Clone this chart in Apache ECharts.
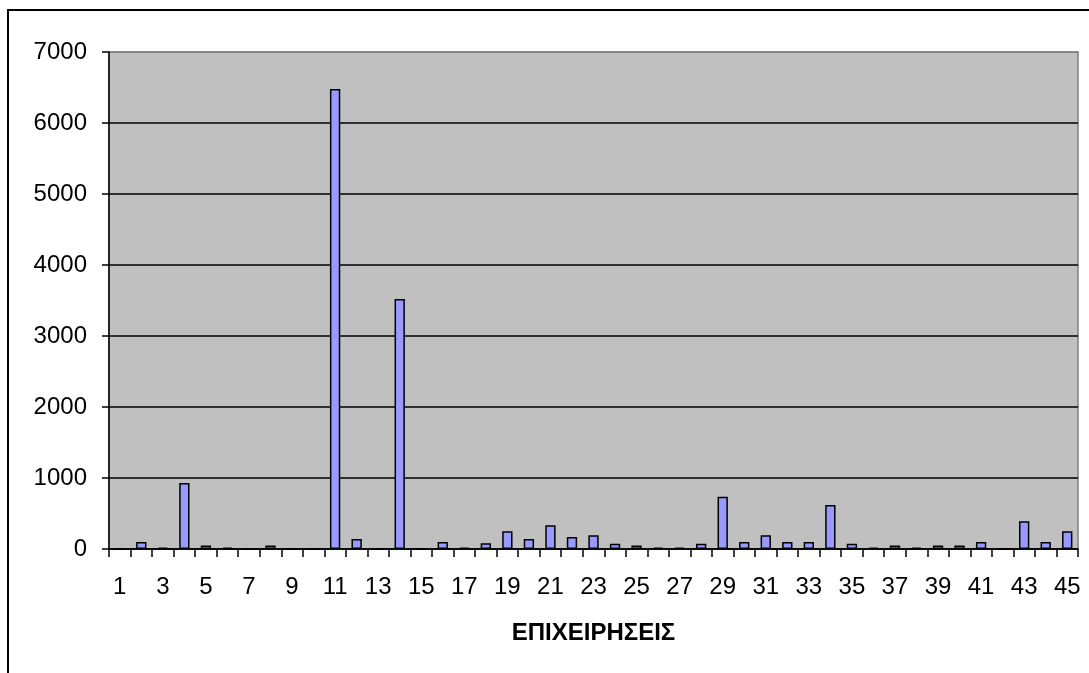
<!DOCTYPE html>
<html><head><meta charset="utf-8">
<script src="https://cdn.jsdelivr.net/npm/echarts@6/dist/echarts.min.js"></script>
<style>
html,body{margin:0;padding:0;background:#fff;}
#frame{position:absolute;left:7px;top:9px;width:1200px;height:800px;border:2px solid #000;box-sizing:border-box;}
#c{position:absolute;left:0;top:0;width:1089px;height:673px;}
</style></head>
<body>
<div id="frame"></div>
<div id="c"></div>
<script>
const categories = [];
for (let i = 1; i <= 45; i++) categories.push(String(i));
const values = [0, 100, 20, 930, 50, 20, 0, 50, 0, 0,
                6480, 140, 0, 3520, 0, 100, 20, 80, 250, 140,
                335, 170, 195, 75, 50, 20, 20, 75, 735, 100,
                195, 100, 100, 620, 75, 20, 50, 20, 50, 50,
                100, 0, 390, 100, 250];
const yTicks = [0, 1000, 2000, 3000, 4000, 5000, 6000, 7000];
const axisTitle = 'ΕΠΙΧΕΙΡΗΣΕΙΣ';

const chart = echarts.init(document.getElementById('c'), null, {renderer: 'canvas'});
const font = '"Liberation Sans", Arial, sans-serif';
chart.setOption({
  animation: false,
  grid: {left: 109, right: 11, top: 52, bottom: 124, show: true, backgroundColor: '#C0C0C0', borderColor: '#808080', borderWidth: 1.5},
  xAxis: {
    type: 'category', data: categories, boundaryGap: true,
    name: axisTitle, nameLocation: 'middle', nameGap: 72,
    nameTextStyle: {fontFamily: font, fontWeight: 'bold', fontSize: 24, color: '#000'},
    axisLine: {lineStyle: {color: '#000', width: 1.5}},
    axisTick: {show: true, interval: 0, length: 8, alignWithLabel: false, lineStyle: {color: '#000', width: 1.5}},
    axisLabel: {interval: 1, fontFamily: font, fontSize: 24, color: '#000', margin: 26},
    splitLine: {show: false}
  },
  yAxis: {
    type: 'value', min: yTicks[0], max: yTicks[yTicks.length - 1], interval: 1000,
    axisLine: {show: true, lineStyle: {color: '#000', width: 1.5}},
    axisTick: {show: true, length: 7, lineStyle: {color: '#000', width: 1.5}},
    axisLabel: {fontFamily: font, fontSize: 24, color: '#000', margin: 22, formatter: (v) => String(v)},
    splitLine: {show: true, lineStyle: {color: ['#000','#000','#000','#000','#000','#000','#000','#808080'], width: 1.5}}
  },
  series: [{
    type: 'bar', data: values, barWidth: '48%',
    itemStyle: {color: '#9999FF', borderColor: '#000', borderWidth: 1.5}
  }]
});
</script>
</body></html>
